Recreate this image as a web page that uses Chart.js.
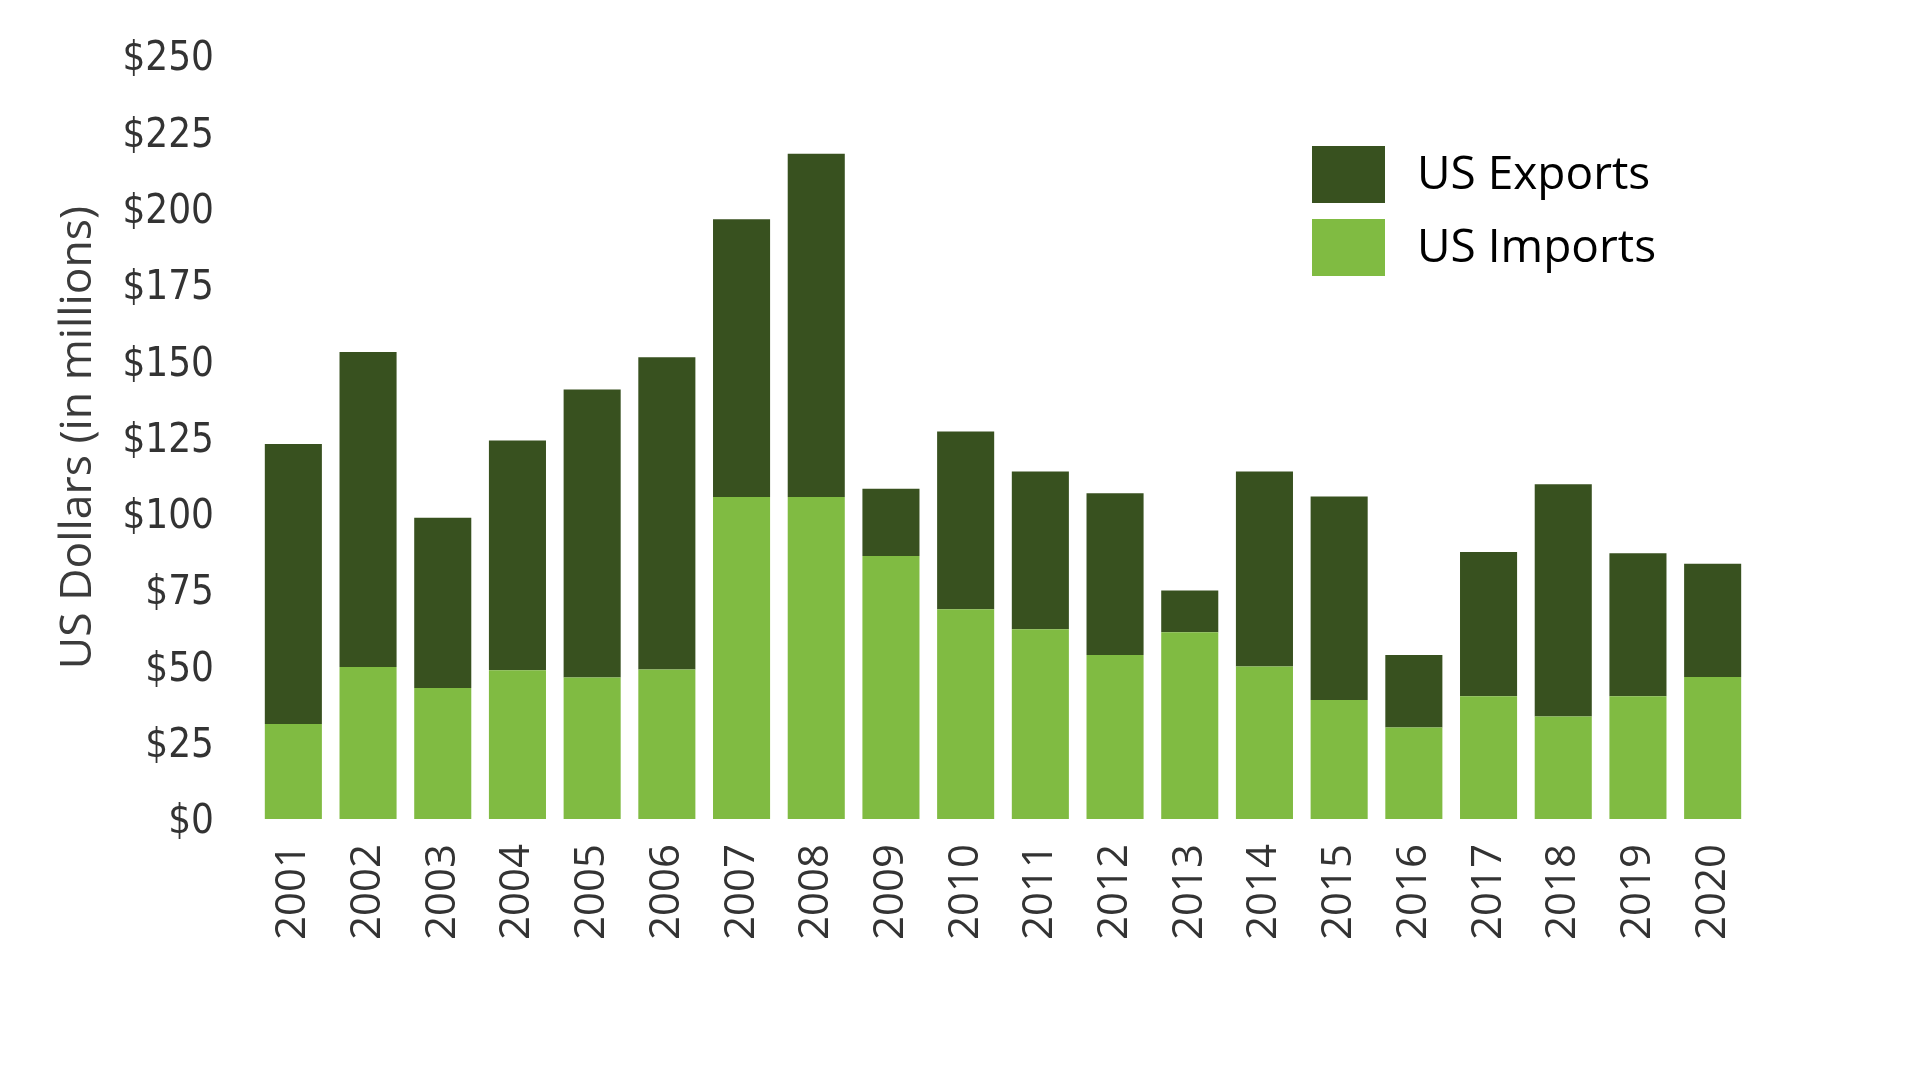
<!DOCTYPE html>
<html>
<head>
<meta charset="utf-8">
<title>US Exports and Imports</title>
<script src="https://cdn.jsdelivr.net/npm/chart.js@4.4.1/dist/chart.umd.min.js"></script>
<style>
  html, body { margin: 0; padding: 0; background: #fff; }
  #wrap { width: 1920px; height: 1080px; position: relative; }
</style>
</head>
<body>
<div id="wrap"><canvas id="tradeChart"></canvas></div>
<script>
const years = ["2001", "2002", "2003", "2004", "2005", "2006", "2007", "2008", "2009", "2010",
               "2011", "2012", "2013", "2014", "2015", "2016", "2017", "2018", "2019", "2020"];

// millions of US dollars
const usImports = [31.1, 49.8, 42.9, 48.7, 46.4, 49.0, 105.5, 105.5, 86.2, 68.7,
                   62.2, 53.7, 61.2, 50.0, 39.0, 30.0, 40.2, 33.6, 40.2, 46.5];
const usExports = [91.8, 103.2, 55.8, 75.3, 94.3, 102.3, 91.0, 112.5, 22.0, 58.3,
                   51.7, 53.0, 13.7, 63.9, 66.7, 23.7, 47.3, 76.1, 46.9, 37.1];

const yTicks = [0, 25, 50, 75, 100, 125, 150, 175, 200, 225, 250];

const darkGreen = "#38511f";
const lightGreen = "#80bb42";

// legend sits inside the plot, top right, exports listed first
const boxLegend = {
    id: "boxLegend",
    afterDraw(chart) {
        const ctx = chart.ctx;
        const items = chart.data.datasets.slice().reverse();
        ctx.save();
        ctx.font = "46px 'Open Sans'";
        ctx.textBaseline = "middle";
        items.forEach((ds, i) => {
            const top = 146 + i * 73;
            ctx.fillStyle = ds.backgroundColor;
            ctx.fillRect(1312, top, 73, 57);
            ctx.fillStyle = "#000";
            ctx.fillText(ds.label, 1417, top + 30);
        });
        ctx.restore();
    }
};

const ctxEl = document.getElementById("tradeChart").getContext("2d");

new Chart(ctxEl, {
    type: "bar",
    data: {
        labels: years,
        datasets: [{
            label: "US Imports",
            data: usImports,
            backgroundColor: lightGreen,
        }, {
            label: "US Exports",
            data: usExports,
            backgroundColor: darkGreen,
        }],
    },
    options: {
        responsive: true,
        maintainAspectRatio: false,
        animation: false,
        categoryPercentage: 1,
        barPercentage: 0.764,
        layout: {
            padding: { top: 56, right: 170, bottom: 0, left: 0 }
        },
        plugins: {
            legend: { display: false },
            tooltip: { enabled: false },
        },
        scales: {
            x: {
                stacked: true,
                grid: { display: false },
                border: { display: false },
                ticks: {
                    autoSkip: false,
                    maxRotation: 90,
                    minRotation: 90,
                    padding: 17,
                    color: "#333",
                    font: { family: "'Open Sans', sans-serif", size: 42 },
                },
                afterFit: (scale) => {
                    scale.height = 261;
                    scale.paddingLeft = 0;
                    scale.paddingRight = 0;
                },
            },
            y: {
                stacked: true,
                min: 0,
                max: 250,
                grid: { display: false },
                border: { display: false },
                afterBuildTicks: (scale) => {
                    scale.ticks = yTicks.map(v => ({ value: v }));
                },
                ticks: {
                    padding: 34,
                    labelOffset: 4,
                    color: "#333",
                    font: { family: "'DejaVu Sans Condensed', 'Liberation Sans Narrow', sans-serif", size: 40 },
                    callback: (value) => "$" + value,
                },
                title: {
                    display: true,
                    text: "US Dollars (in millions)",
                    color: "#3b3b3b",
                    font: { family: "'Open Sans', sans-serif", size: 44.5 },
                    padding: { top: 52, bottom: 0 },
                },
                afterFit: (scale) => {
                    scale.width = 256;
                    scale.paddingTop = 0;
                    scale.paddingBottom = 0;
                },
            },
        },
    },
    plugins: [boxLegend],
});
</script>
</body>
</html>
